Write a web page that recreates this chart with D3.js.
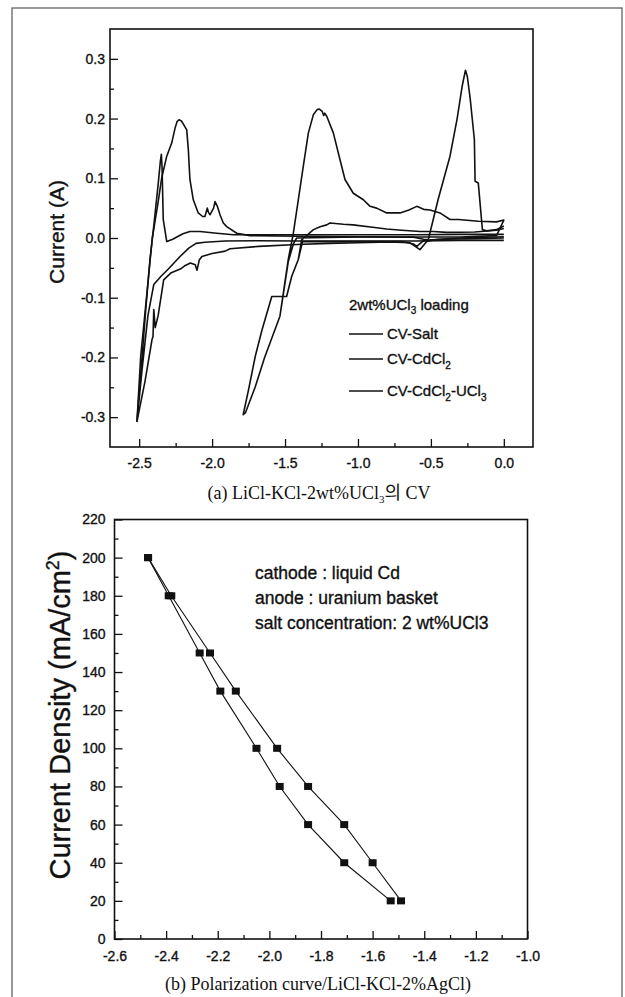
<!DOCTYPE html>
<html>
<head>
<meta charset="utf-8">
<script src="https://cdn.jsdelivr.net/npm/d3@7"></script>
<style>
  body { margin: 0; background: #fff; }
  svg text { font-family: "Liberation Sans", Arial, sans-serif; fill: #111; }
  svg text.ink { stroke: #111; stroke-width: 0.35; }
  svg text.caption { font-family: "Liberation Serif", "Times New Roman", "Noto Sans CJK KR", serif; }
</style>
</head>
<body>
<div id="figure"></div>
<script>
// ---- data ----

// (a) cyclic voltammograms, [potential (V), current (A)]
var cvSalt = [
  [0.0, -0.004], [-0.3, -0.004], [-0.6, -0.005], [-1.0, -0.005], [-1.4, -0.005], [-1.7, -0.0045],
  [-1.91, -0.005], [-2.05, -0.007], [-2.11, -0.009], [-2.16, -0.017], [-2.22, -0.031], [-2.30, -0.052],
  [-2.35, -0.064], [-2.40, -0.078], [-2.44, -0.13], [-2.48, -0.22], [-2.515, -0.307],
  [-2.49, -0.23], [-2.455, -0.12], [-2.426, -0.036], [-2.40, 0.02], [-2.369, 0.092], [-2.355, 0.128],
  [-2.348, 0.14], [-2.343, 0.118], [-2.335, 0.031], [-2.311, -0.006], [-2.27, -0.002], [-2.2, 0.007],
  [-2.152, 0.011], [-2.083, 0.011], [-1.968, 0.008], [-1.855, 0.0055], [-1.4, 0.0055], [-1.0, 0.0055],
  [-0.6, 0.0055], [-0.3, 0.006], [0.0, 0.006]
];

var cvCdCl2 = [
  [0.0, 0.002], [-0.3, 0.0], [-0.45, -0.002], [-0.5, -0.004], [-0.529, -0.006], [-0.575, -0.0196],
  [-0.62, -0.012], [-0.643, -0.008], [-0.78, -0.0065], [-1.0, -0.008], [-1.2, -0.009], [-1.42, -0.011],
  [-1.68, -0.014], [-1.877, -0.018], [-1.91, -0.022], [-2.0, -0.026], [-2.07, -0.031], [-2.088, -0.037],
  [-2.1, -0.05], [-2.104, -0.054], [-2.115, -0.045], [-2.149, -0.042], [-2.19, -0.047], [-2.218, -0.052],
  [-2.28, -0.058], [-2.332, -0.07], [-2.37, -0.13], [-2.39, -0.15], [-2.40, -0.12], [-2.405, -0.165],
  [-2.412, -0.17], [-2.46, -0.24], [-2.515, -0.307],
  [-2.49, -0.2], [-2.45, -0.1], [-2.41, 0.0], [-2.37, 0.06], [-2.346, 0.1], [-2.311, 0.137],
  [-2.277, 0.159], [-2.254, 0.184], [-2.24, 0.195], [-2.227, 0.198], [-2.21, 0.196], [-2.195, 0.19],
  [-2.174, 0.181], [-2.163, 0.148], [-2.152, 0.098], [-2.129, 0.064], [-2.095, 0.042], [-2.065, 0.036],
  [-2.049, 0.036], [-2.033, 0.05], [-2.025, 0.043], [-2.014, 0.039], [-1.99, 0.05], [-1.98, 0.061],
  [-1.964, 0.053], [-1.946, 0.039], [-1.923, 0.025], [-1.9, 0.019], [-1.831, 0.008], [-1.74, 0.004],
  [-1.4, 0.003], [-1.0, 0.002], [-0.62, 0.0015], [-0.55, -0.002], [-0.518, -0.003], [-0.45, 0.065],
  [-0.369, 0.137], [-0.32, 0.2], [-0.285, 0.255], [-0.263, 0.281], [-0.25, 0.27], [-0.23, 0.232],
  [-0.202, 0.165], [-0.197, 0.095], [-0.175, 0.092], [-0.161, 0.053], [-0.147, 0.014], [-0.12, 0.012],
  [-0.05, 0.014], [0.0, 0.02]
];

var cvCdCl2UCl3 = [
  [0.0, 0.0], [-0.2, -0.001], [-0.4, -0.002], [-0.5, -0.003], [-0.552, -0.005], [-0.597, -0.014],
  [-0.62, -0.01], [-0.7, -0.006], [-1.0, -0.006], [-1.3, -0.006], [-1.38, -0.006], [-1.409, -0.036],
  [-1.454, -0.064], [-1.478, -0.087], [-1.489, -0.098], [-1.591, -0.098], [-1.658, -0.154],
  [-1.704, -0.198], [-1.75, -0.254], [-1.787, -0.296],
  [-1.772, -0.293], [-1.704, -0.249], [-1.64, -0.2], [-1.535, -0.131], [-1.478, -0.036], [-1.443, 0.008],
  [-1.409, 0.064], [-1.375, 0.12], [-1.34, 0.176], [-1.305, 0.207], [-1.28, 0.215], [-1.265, 0.216],
  [-1.245, 0.212], [-1.235, 0.205], [-1.228, 0.209], [-1.214, 0.204], [-1.169, 0.176], [-1.123, 0.131],
  [-1.089, 0.098], [-1.032, 0.075], [-0.963, 0.064], [-0.917, 0.053], [-0.872, 0.05], [-0.803, 0.042],
  [-0.712, 0.042], [-0.65, 0.047], [-0.597, 0.053], [-0.55, 0.048], [-0.506, 0.047], [-0.438, 0.042],
  [-0.369, 0.031], [-0.311, 0.031], [-0.175, 0.028], [-0.05, 0.027], [0.0, 0.03],
  [-0.05, 0.004], [-0.3, 0.0017], [-0.6, 0.0017], [-1.0, 0.0017], [-1.42, 0.0], [-1.443, -0.01],
  [-1.478, -0.04], [-1.535, -0.131], [-1.64, -0.2], [-1.704, -0.249], [-1.772, -0.293], [-1.787, -0.296],
  [-1.75, -0.254], [-1.704, -0.198], [-1.658, -0.154], [-1.591, -0.098], [-1.489, -0.098],
  [-1.478, -0.087], [-1.454, -0.064], [-1.409, -0.036], [-1.386, -0.003], [-1.305, 0.014], [-1.26, 0.019],
  [-1.214, 0.022], [-1.192, 0.025], [-1.1, 0.023], [-1.034, 0.022], [-0.9, 0.018], [-0.803, 0.015],
  [-0.7, 0.013], [-0.575, 0.011], [-0.484, 0.011], [-0.392, 0.0094], [-0.2, 0.01], [-0.05, 0.013],
  [0.0, 0.016]
];

var cvSeries = [cvSalt, cvCdCl2, cvCdCl2UCl3];
// legend names, pieces flagged true are subscripts
var cvNames = [
  [["CV-Salt", false]],
  [["CV-CdCl", false], ["2", true]],
  [["CV-CdCl", false], ["2", true], ["-UCl", false], ["3", true]]
];

var cvPotentialTicks = [-2.5, -2.0, -1.5, -1.0, -0.5, 0.0];
var cvPotentialLabels = ["-2.5", "-2.0", "-1.5", "-1.0", "-0.5", "0.0"];
var cvPotentialMinor = [-2.25, -1.75, -1.25, -0.75, -0.25];
var cvCurrentTicks = [-0.3, -0.2, -0.1, 0.0, 0.1, 0.2, 0.3];
var cvCurrentLabels = ["-0.3", "-0.2", "-0.1", "0.0", "0.1", "0.2", "0.3"];
var cvCurrentMinor = [-0.25, -0.15, -0.05, 0.05, 0.15, 0.25];

// (b) polarization curve
var currentDensity = [200, 180, 150, 130, 100, 80, 60, 40, 20];
var potentialLow = [-2.47, -2.39, -2.27, -2.19, -2.05, -1.96, -1.85, -1.71, -1.53];
var potentialHigh = [-2.47, -2.38, -2.23, -2.13, -1.97, -1.85, -1.71, -1.60, -1.49];

var polPotentialTicks = [-2.6, -2.4, -2.2, -2.0, -1.8, -1.6, -1.4, -1.2, -1.0];
var polPotentialLabels = ["-2.6", "-2.4", "-2.2", "-2.0", "-1.8", "-1.6", "-1.4", "-1.2", "-1.0"];
var polPotentialMinor = [-2.5, -2.3, -2.1, -1.9, -1.7, -1.5, -1.3, -1.1];
var densityTicks = [0, 20, 40, 60, 80, 100, 120, 140, 160, 180, 200, 220];
var densityLabels = ["0", "20", "40", "60", "80", "100", "120", "140", "160", "180", "200", "220"];
var densityMinor = [10, 30, 50, 70, 90, 110, 130, 150, 170, 190, 210];

var notes = ["cathode : liquid Cd", "anode : uranium basket", "salt concentration: 2 wt%UCl3"];

// ---- canvas ----
var Width = 625;
var Height = 997;

var svg = d3
  .select("#figure")
  .append("svg")
  .attr("width", Width)
  .attr("height", Height);

svg.append("rect")
  .attr("width", Width)
  .attr("height", Height)
  .attr("fill", "#fff");

// outer box of the scanned page
svg.append("rect")
  .attr("x", 12)
  .attr("y", 8)
  .attr("width", 610)
  .attr("height", 1000)
  .attr("fill", "none")
  .attr("stroke", "#555")
  .attr("stroke-width", 1.2);

// helper: inward major + minor ticks, no domain line
function drawAxis(g, axisFn, scale, major, labels, minor, pad) {
  g.append("g")
    .call(axisFn(scale).tickValues(minor).tickSizeInner(-4).tickSizeOuter(0).tickFormat(""))
    .call(function(s) { s.select(".domain").remove(); });
  g.append("g")
    .call(axisFn(scale).tickValues(major).tickSizeInner(-8).tickSizeOuter(0).tickPadding(pad)
      .tickFormat(function(d, i) { return labels[i]; }))
    .call(function(s) {
      s.select(".domain").remove();
      s.selectAll("text").attr("font-size", 14).attr("fill", "#111").attr("class", "ink")
        .attr("font-family", "'Liberation Sans', Arial, sans-serif");
    });
  g.selectAll("line").attr("stroke", "#111").attr("stroke-width", 1.3);
}

// ---- (a) CV plot ----
var cvX = d3.scaleLinear().domain([-2.7, 0.2]).range([110, 533]);
var cvY = d3.scaleLinear().domain([-0.35, 0.35]).range([447, 29]);

var xAxisA = svg.append("g").attr("transform", "translate(0,447)");
drawAxis(xAxisA, d3.axisBottom, cvX, cvPotentialTicks, cvPotentialLabels, cvPotentialMinor, 11);
var yAxisA = svg.append("g").attr("transform", "translate(110,0)");
drawAxis(yAxisA, d3.axisLeft, cvY, cvCurrentTicks, cvCurrentLabels, cvCurrentMinor, 5);

var cvLine = d3.line()
  .x(function(d) { return cvX(d[0]); })
  .y(function(d) { return cvY(d[1]); });

svg.append("g")
  .selectAll("path")
  .data(cvSeries)
  .enter()
  .append("path")
  .attr("d", cvLine)
  .attr("fill", "none")
  .attr("stroke", "#111")
  .attr("stroke-width", 1.6)
  .attr("stroke-linejoin", "round");

svg.append("rect")
  .attr("x", 110).attr("y", 29)
  .attr("width", 423).attr("height", 418)
  .attr("fill", "none").attr("stroke", "#111").attr("stroke-width", 1.6);

svg.append("text")
  .attr("class", "ink")
  .attr("transform", "translate(64,232) rotate(-90)")
  .attr("text-anchor", "middle")
  .attr("font-size", 21)
  .text("Current (A)");

// legend
var legendTitle = svg.append("text")
  .attr("class", "ink")
  .attr("x", 349).attr("y", 310)
  .attr("font-size", 15);
legendTitle.append("tspan").text("2wt%UCl");
legendTitle.append("tspan").attr("font-size", 10).attr("dy", 4).text("3");
legendTitle.append("tspan").attr("dy", -4).text(" loading");

var legendRows = [334, 359, 391];
cvNames.forEach(function(parts, i) {
  svg.append("line")
    .attr("x1", 349).attr("x2", 383)
    .attr("y1", legendRows[i]).attr("y2", legendRows[i])
    .attr("stroke", "#111").attr("stroke-width", 1.5);
  var t = svg.append("text")
    .attr("class", "ink")
    .attr("x", 387).attr("y", legendRows[i] + 5)
    .attr("font-size", 15);
  var shift = 0;
  parts.forEach(function(p) {
    var dy = 0;
    if (p[1] && shift === 0) { dy = 5; shift = 5; }
    else if (!p[1] && shift !== 0) { dy = -5; shift = 0; }
    t.append("tspan")
      .attr("dy", dy)
      .attr("font-size", p[1] ? 10 : 15)
      .text(p[0]);
  });
});

// caption (a)
var capA = svg.append("text")
  .attr("class", "caption")
  .attr("x", 319).attr("y", 499)
  .attr("text-anchor", "middle")
  .attr("font-size", 18);
capA.append("tspan").text("(a) LiCl-KCl-2wt%UCl");
capA.append("tspan").attr("font-size", 11).attr("dy", 4).text("3");
capA.append("tspan").attr("dy", -4).text("의 CV");

// ---- (b) polarization plot ----
var polX = d3.scaleLinear().domain([-2.6, -1.0]).range([114.5, 527.5]);
var polY = d3.scaleLinear().domain([0, 220]).range([939, 519.5]);

var xAxisB = svg.append("g").attr("transform", "translate(0,939)");
drawAxis(xAxisB, d3.axisBottom, polX, polPotentialTicks, polPotentialLabels, polPotentialMinor, 12);
var yAxisB = svg.append("g").attr("transform", "translate(114.5,0)");
drawAxis(yAxisB, d3.axisLeft, polY, densityTicks, densityLabels, densityMinor, 9);

var polLine = d3.line()
  .x(function(d) { return polX(d[0]); })
  .y(function(d) { return polY(d[1]); });

[potentialLow, potentialHigh].forEach(function(pot) {
  var pts = pot.map(function(v, i) { return [v, currentDensity[i]]; });
  svg.append("path")
    .attr("d", polLine(pts))
    .attr("fill", "none")
    .attr("stroke", "#111")
    .attr("stroke-width", 1.1);
  svg.append("g")
    .selectAll("rect")
    .data(pts)
    .enter()
    .append("rect")
    .attr("x", function(d) { return polX(d[0]) - 4; })
    .attr("y", function(d) { return polY(d[1]) - 3.5; })
    .attr("width", 8)
    .attr("height", 7)
    .attr("fill", "#111");
});

svg.append("rect")
  .attr("x", 114.5).attr("y", 519.5)
  .attr("width", 413).attr("height", 419.5)
  .attr("fill", "none").attr("stroke", "#111").attr("stroke-width", 1.6);

var yTitleB = svg.append("text")
  .attr("class", "ink")
  .attr("transform", "translate(70,715) rotate(-90)")
  .attr("text-anchor", "middle")
  .attr("font-size", 29);
yTitleB.append("tspan").text("Current Density (mA/cm");
yTitleB.append("tspan").attr("font-size", 18).attr("dy", -11).text("2");
yTitleB.append("tspan").attr("dy", 11).text(")");

svg.append("g")
  .selectAll("text")
  .data(notes)
  .enter()
  .append("text")
  .attr("class", "ink")
  .attr("x", 255)
  .attr("y", function(d, i) { return 579 + i * 25; })
  .attr("font-size", 17.5)
  .text(function(d) { return d; });

svg.append("text")
  .attr("class", "caption")
  .attr("x", 318).attr("y", 990)
  .attr("text-anchor", "middle")
  .attr("font-size", 18)
  .text("(b) Polarization curve/LiCl-KCl-2%AgCl)");
</script>
</body>
</html>
